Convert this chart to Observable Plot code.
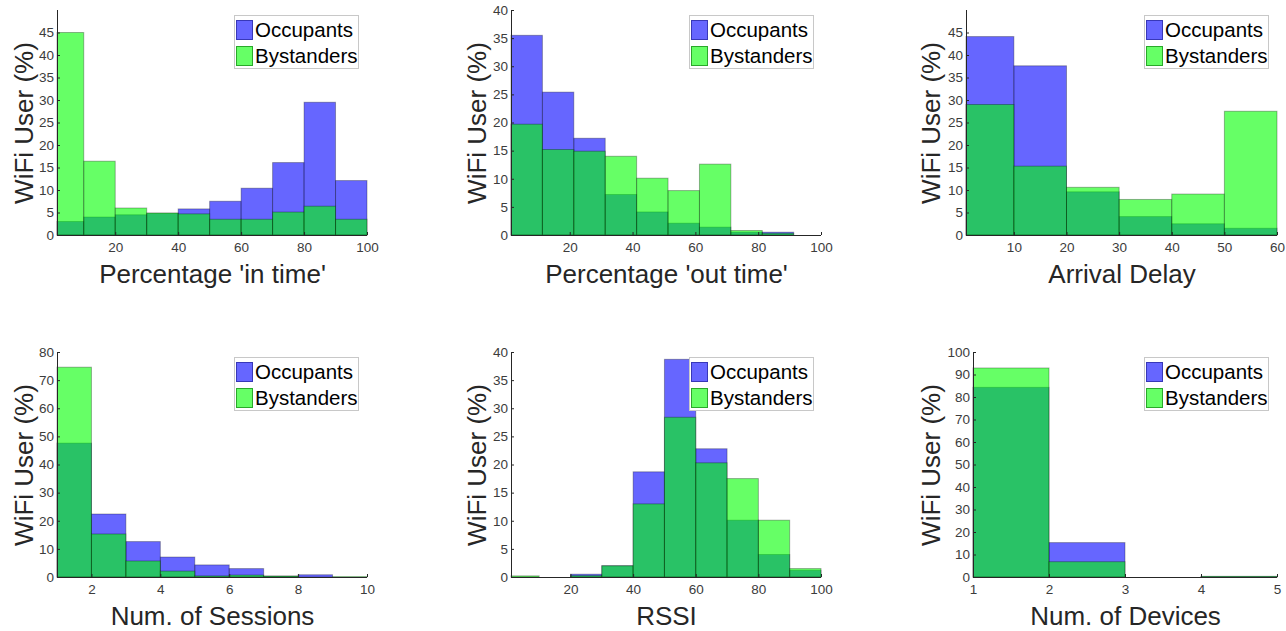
<!DOCTYPE html>
<html>
<head>
<meta charset="utf-8">
<script src="https://cdn.jsdelivr.net/npm/d3@7"></script>
<script src="https://cdn.jsdelivr.net/npm/@observablehq/plot@0.6"></script>
<style>
  html, body { margin: 0; padding: 0; background: #fff; }
  #wrap { position: relative; width: 1286px; height: 631px; overflow: hidden; font-family: "Liberation Sans", Arial, sans-serif; }
  .pane { position: absolute; }
  .legend { position: absolute; width: 125px; height: 54px; background: #fff; border: 1px solid #c8c8c8; box-sizing: border-box; }
  .legend .row { position: absolute; left: 1px; height: 20px; display: flex; align-items: center; }
  .legend .sw { width: 17px; height: 20px; box-sizing: border-box; margin-right: 2px; }
  .legend .lab { font-size: 20.5px; color: #000; line-height: 20px; white-space: nowrap; }
</style>
</head>
<body>
<div id="wrap"></div>
<script>
// ---- data ----
const seriesNames = ["Occupants", "Bystanders"];
const yLabel = "WiFi User (%)";

const inTimeEdges = [1.5, 10, 20, 30, 40, 50, 60, 70, 80, 90, 100];
const inTimeOcc   = [3.0, 4.0, 4.5, 4.8, 5.8, 7.5, 10.4, 16.1, 29.5, 12.1];
const inTimeBys   = [45.0, 16.4, 6.0, 4.9, 4.7, 3.5, 3.5, 5.1, 6.4, 3.5];
const inTimeXTicks = [20, 40, 60, 80, 100];
const inTimeYTicks = [0, 5, 10, 15, 20, 25, 30, 35, 40, 45];

const outTimeEdges = [1.3, 11.3, 21.3, 31.3, 41.3, 51.3, 61.3, 71.3, 81.3, 91.3];
const outTimeOcc   = [35.5, 25.4, 17.2, 7.2, 4.1, 2.1, 1.4, 0.5, 0.5];
const outTimeBys   = [19.7, 15.2, 14.9, 14.0, 10.1, 7.9, 12.6, 0.8, 0.3];
const outTimeXTicks = [20, 40, 60, 80, 100];
const outTimeYTicks = [0, 5, 10, 15, 20, 25, 30, 35, 40];

const delayEdges = [0.9, 10, 20, 30, 40, 50, 60];
const delayOcc   = [44.1, 37.6, 9.6, 4.1, 2.5, 1.5];
const delayBys   = [29.0, 15.3, 10.6, 7.9, 9.1, 27.5];
const delayXTicks = [10, 20, 30, 40, 50, 60];
const delayYTicks = [0, 5, 10, 15, 20, 25, 30, 35, 40, 45];

const sessEdges = [1, 2, 3, 4, 5, 6, 7, 8, 9, 10];
const sessOcc   = [47.6, 22.4, 12.6, 7.1, 4.3, 3.0, 0.3, 0.8, 0.0];
const sessBys   = [74.6, 15.3, 5.7, 2.1, 0.4, 0.7, 0.35, 0.0, 0.15];
const sessXTicks = [2, 4, 6, 8, 10];
const sessYTicks = [0, 10, 20, 30, 40, 50, 60, 70, 80];

const rssiEdges = [1, 10, 20, 30, 40, 50, 60, 70, 80, 90, 100];
const rssiOcc   = [0.0, 0.0, 0.5, 2.0, 18.7, 38.7, 22.8, 10.1, 4.0, 1.2];
const rssiBys   = [0.2, 0.0, 0.25, 2.0, 13.0, 28.4, 20.3, 17.5, 10.1, 1.5];
const rssiXTicks = [20, 40, 60, 80, 100];
const rssiYTicks = [0, 5, 10, 15, 20, 25, 30, 35, 40];

const devEdges = [1, 2, 3, 4, 5];
const devOcc   = [84.3, 15.3, 0.0, 0.2];
const devBys   = [92.9, 6.8, 0.0, 0.3];
const devXTicks = [1, 2, 3, 4, 5];
const devYTicks = [0, 10, 20, 30, 40, 50, 60, 70, 80, 90, 100];

// ---- layout ----
const panels = [
  {edges: inTimeEdges, occ: inTimeOcc, bys: inTimeBys, xt: inTimeXTicks, yt: inTimeYTicks, ymax: 50, xlabel: "Percentage 'in time'", axL: 57, axR: 367, axT: 10, ylDx: -33, leg: [234, 15]},
  {edges: outTimeEdges, occ: outTimeOcc, bys: outTimeBys, xt: outTimeXTicks, yt: outTimeYTicks, ymax: 40, xlabel: "Percentage 'out time'", axL: 511, axR: 821, axT: 10, ylDx: -34, leg: [689, 15], xmax: 100},
  {edges: delayEdges, occ: delayOcc, bys: delayBys, xt: delayXTicks, yt: delayYTicks, ymax: 50, xlabel: "Arrival Delay", axL: 966, axR: 1277, axT: 10, ylDx: -35, leg: [1144, 15]},
  {edges: sessEdges, occ: sessOcc, bys: sessBys, xt: sessXTicks, yt: sessYTicks, ymax: 80, xlabel: "Num. of Sessions", axL: 57, axR: 367, axT: 352, ylDx: -33, leg: [234, 357]},
  {edges: rssiEdges, occ: rssiOcc, bys: rssiBys, xt: rssiXTicks, yt: rssiYTicks, ymax: 40, xlabel: "RSSI", axL: 511, axR: 821, axT: 352, ylDx: -34, leg: [689, 357]},
  {edges: devEdges, occ: devOcc, bys: devBys, xt: devXTicks, yt: devYTicks, ymax: 100, xlabel: "Num. of Devices", axL: 973, axR: 1277, axT: 352, ylDx: -42, leg: [1144, 357]}
];

const wrap = document.getElementById("wrap");
const ML = 62, MR = 8, MT = 10, MB = 54, PH = 225;
const axisColor = "#262626";

function rows(edges, vals) {
  return vals.map((v, i) => ({a: edges[i], b: edges[i + 1], v}));
}

panels.forEach(p => {
  const x0 = p.edges[0];
  const x1 = p.xmax ?? p.edges[p.edges.length - 1];
  const w = p.axR - p.axL;
  const chart = Plot.plot({
    width: ML + w + MR,
    height: MT + PH + MB,
    marginLeft: ML, marginRight: MR, marginTop: MT, marginBottom: MB,
    x: {domain: [x0, x1]},
    y: {domain: [0, p.ymax]},
    style: {background: "transparent", overflow: "visible", fontFamily: "'Liberation Sans', Arial, sans-serif", fontSize: "13.5px", color: axisColor},
    marks: [
      Plot.rectY(rows(p.edges, p.occ), {x1: "a", x2: "b", y1: 0, y2: "v", fill: "blue", fillOpacity: 0.6, stroke: "black", strokeOpacity: 0.3, strokeWidth: 1}),
      Plot.rectY(rows(p.edges, p.bys), {x1: "a", x2: "b", y1: 0, y2: "v", fill: "#00ff00", fillOpacity: 0.6, stroke: "black", strokeOpacity: 0.3, strokeWidth: 1}),
      Plot.ruleX([x0], {stroke: axisColor}),
      Plot.ruleY([0], {stroke: axisColor}),
      Plot.axisX(p.xt, {tickSize: -3, tickPadding: 10, label: null, stroke: axisColor, fill: "#3c3c3c"}),
      Plot.axisY(p.yt, {tickSize: -3, tickPadding: 6.5, label: null, stroke: axisColor, fill: "#3c3c3c"}),
      Plot.text([p.xlabel], {text: d => d, frameAnchor: "bottom", dy: 39, lineAnchor: "middle", textAnchor: "middle", fontSize: 26, fill: "#262626"}),
      Plot.text([yLabel], {text: d => d, frameAnchor: "left", dx: p.ylDx, rotate: -90, lineAnchor: "middle", textAnchor: "middle", fontSize: 26, fill: "#262626"})
    ]
  });
  const div = document.createElement("div");
  div.className = "pane";
  div.style.left = (p.axL - ML) + "px";
  div.style.top = (p.axT - MT) + "px";
  div.appendChild(chart);
  wrap.appendChild(div);

  const leg = document.createElement("div");
  leg.className = "legend";
  leg.style.left = p.leg[0] + "px";
  leg.style.top = p.leg[1] + "px";
  const colors = [["#6666ff", "#3838b8"], ["#66ff66", "#2aa82a"]];
  seriesNames.forEach((name, i) => {
    const r = document.createElement("div");
    r.className = "row";
    r.style.top = (4 + i * 26) + "px";
    const sw = document.createElement("div");
    sw.className = "sw";
    sw.style.background = colors[i][0];
    sw.style.border = "1px solid " + colors[i][1];
    const lab = document.createElement("span");
    lab.className = "lab";
    lab.textContent = name;
    r.appendChild(sw);
    r.appendChild(lab);
    leg.appendChild(r);
  });
  wrap.appendChild(leg);
});
</script>
</body>
</html>
